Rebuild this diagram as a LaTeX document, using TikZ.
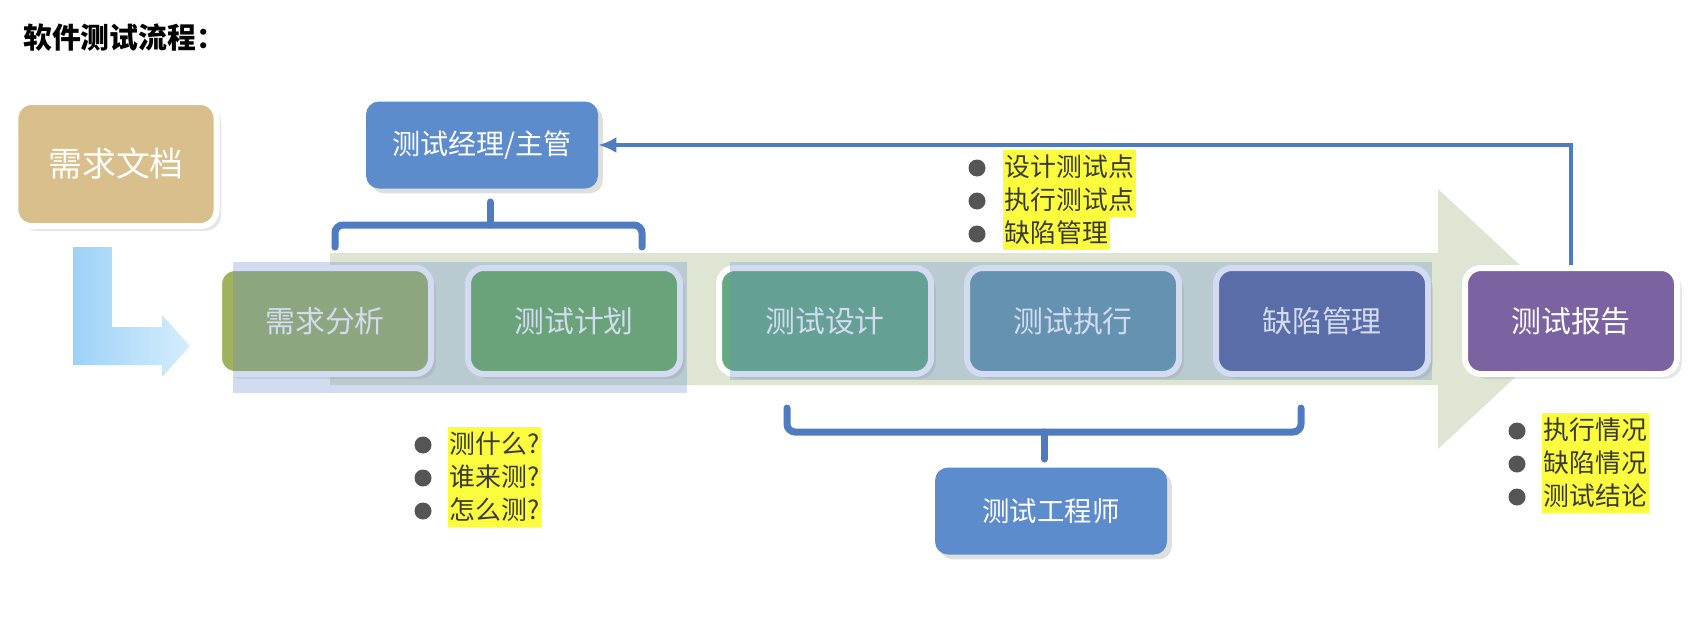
\documentclass[tikz,border=0pt]{standalone}
\usepackage{fontspec}
\setmainfont{Noto Sans CJK SC}
\usepackage{tikz}
\usetikzlibrary{arrows.meta,shadows}

\definecolor{paper}{HTML}{D8BF8C}
\definecolor{flowgreen}{HTML}{DEE6D3}
\definecolor{bandblue}{HTML}{6A8ACD}
\definecolor{lblueA}{HTML}{9DD2F7}
\definecolor{lblueB}{HTML}{D6EDFC}
\definecolor{roleblue}{HTML}{5D8CCD}
\definecolor{linkblue}{HTML}{4F7BC0}
\definecolor{hlyellow}{HTML}{FCFC3E}
\definecolor{bullettext}{HTML}{3A3A30}
\definecolor{dotgray}{HTML}{555555}

\tikzset{
  stage/.style={draw=white, line width=1.2mm, rounded corners=3.2mm,
    minimum width=42.4mm, minimum height=21.2mm, text=white,
    font=\fontsize{17pt}{20pt}\selectfont, drop shadow={opacity=0.2}},
  role/.style={fill=roleblue, rounded corners=2.6mm, minimum width=46.4mm,
    minimum height=17.4mm, text=white, drop shadow={opacity=0.25}},
  hl/.style={fill=hlyellow, text=bullettext, inner xsep=0.3mm, inner ysep=0pt,
    minimum height=6.7mm, anchor=west, font=\fontsize{14.7pt}{16pt}\selectfont},
  bul/.style={circle, fill=dotgray, inner sep=0pt, minimum size=3.4mm},
  conn/.style={draw=linkblue, line width=0.8mm, -{Latex[length=3.6mm,width=3.2mm]}},
  fork/.style={draw=linkblue, line width=1.4mm, rounded corners=1.6mm, line cap=round},
  band/.style={fill=bandblue, fill opacity=0.3}
}

\begin{document}
\begin{tikzpicture}[x=0.2mm, y=-0.2mm]
	\useasboundingbox (0,0) rectangle (1690,640);
	
	% title
	\node[anchor=west, font=\bfseries\fontsize{16.4pt}{18pt}\selectfont] (title) at (17,38) {软件测试流程：};
	
	% flow arrow behind the stages
	\fill[flowgreen] (330,253) -- (1438,253) -- (1438,189) -- (1578,319) -- (1438,449) -- (1438,385) -- (330,385) -- cycle;
	\path[left color=lblueA, right color=lblueB] (73,247) -- (112,247) -- (112,327) -- (162,327) -- (162,315) -- (190,346) -- (162,377) -- (162,365) -- (73,365) -- cycle;
	
	\node[stage, fill=paper, minimum width=40.2mm, minimum height=24.8mm, font=\fontsize{19.3pt}{22pt}\selectfont] (doc) at (116,164) {需求文档};
	
	\node[role, font=\fontsize{16pt}{18pt}\selectfont] (lead) at (482,145) {测试经理/主管};
	
	% stages
	\node[stage, fill={rgb,255:red,159;green,179;blue,95}] (ana) at (325,321) {需求分析};
	\node[stage, fill={rgb,255:red,106;green,173;blue,85}] (plan) at (574,321) {测试计划};
	\node[stage, fill={rgb,255:red,100;green,170;blue,126}] (design) at (825,321) {测试设计};
	\node[stage, fill={rgb,255:red,99;green,150;blue,164}] (exec) at (1073,321) {测试执行};
	\node[stage, fill={rgb,255:red,84;green,97;blue,152}] (bug) at (1322,321) {缺陷管理};
	\node[stage, fill={rgb,255:red,123;green,98;blue,160}] (report) at (1571,321) {测试报告};
	
	\fill[band] (233,262) rectangle (687,393);
	\fill[band] (730,262) rectangle (1432,380);
	
	\node[role, font=\fontsize{15.6pt}{18pt}\selectfont] (eng) at (1051,511) {测试工程师};
	
	% brackets
	\coordinate (upl) at (335,247);
	\coordinate (upr) at (642,247);
	\coordinate (upm) at (490,202);
	\draw[fork] (upl) -- ++(0,-22) -| (upr);
	\draw[fork] (upm) -- ++(0,23);
	
	\coordinate (lol) at (787,408);
	\coordinate (lor) at (1301,408);
	\coordinate (lom) at (1044,459);
	\draw[fork] (lol) -- ++(0,24) -| (lor);
	\draw[fork] (lom) -- ++(0,-27);
	
	\draw[conn] (report.north) |- (lead.east);
	
	% notes
	\node[bul] (a1) at (977,168) {};
	\node[bul] (a2) at (977,201) {};
	\node[bul] (a3) at (977,234) {};
	\node[hl] (at1) at (1003,167) {设计测试点};
	\node[hl] (at2) at (1003,200) {执行测试点};
	\node[hl] (at3) at (1003,233) {缺陷管理};
	
	\node[bul] (b1) at (423,445) {};
	\node[bul] (b2) at (423,478) {};
	\node[bul] (b3) at (423,511) {};
	\node[hl] (bt1) at (448,444) {测什么?};
	\node[hl] (bt2) at (448,477) {谁来测?};
	\node[hl] (bt3) at (448,510) {怎么测?};
	
	\node[bul] (c1) at (1517,431) {};
	\node[bul] (c2) at (1517,464) {};
	\node[bul] (c3) at (1517,497) {};
	\node[hl] (ct1) at (1542,430) {执行情况};
	\node[hl] (ct2) at (1542,463) {缺陷情况};
	\node[hl] (ct3) at (1542,496) {测试结论};
\end{tikzpicture}
\end{document}
